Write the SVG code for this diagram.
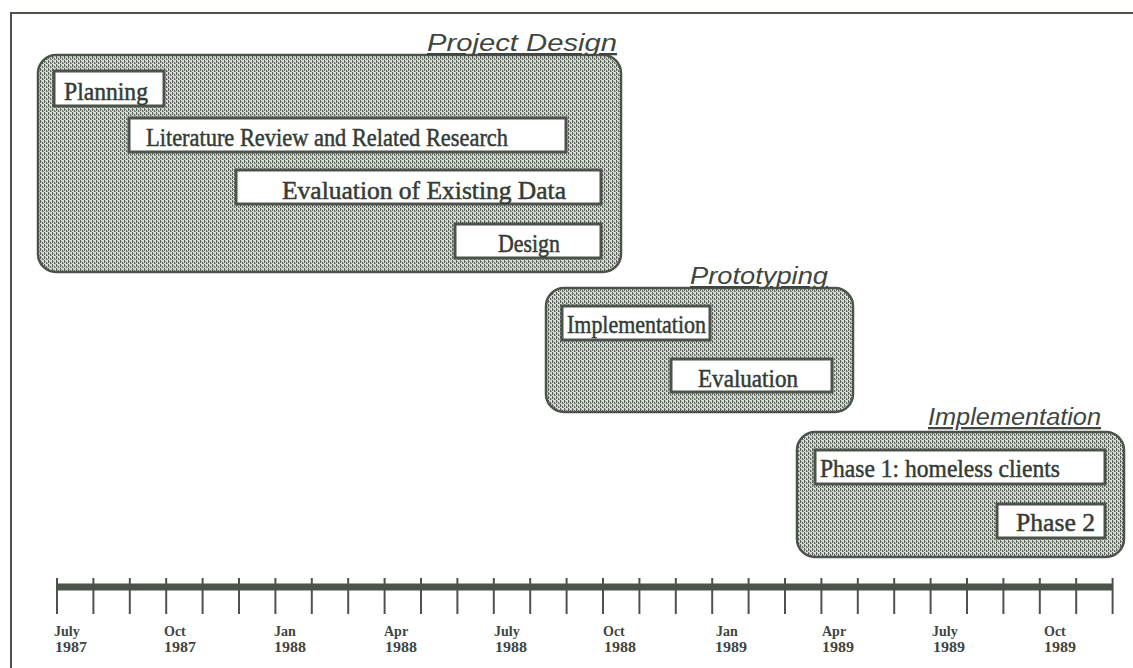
<svg xmlns="http://www.w3.org/2000/svg" width="1133" height="668" viewBox="0 0 1133 668">
  <defs>
    <!-- fine stipple used for the phase panels -->
    <pattern id="stipple" width="4" height="4" patternUnits="userSpaceOnUse">
      <rect width="4" height="4" fill="#dadcda"/>
      <rect x="0" y="0" width="1" height="3" fill="#5a625a"/>
      <rect x="2" y="2" width="1" height="3" fill="#5a625a"/>
      <rect x="1" y="1" width="1" height="1" fill="#969b96"/>
      <rect x="3" y="3" width="1" height="1" fill="#969b96"/>
    </pattern>
    <style>
      .panel { fill: url(#stipple); stroke: #4b534b; stroke-width: 2.5; }
      .task { fill: #ffffff; stroke: #4b534b; stroke-width: 3; }
      .tasklabel { font-family: "Liberation Serif", "DejaVu Serif", serif; font-size: 25px; fill: #353c35; stroke: #353c35; stroke-width: 0.5; }
      .phase { font-family: "Liberation Sans", Arial, sans-serif; font-style: italic; font-size: 23px; fill: #3f463f; text-decoration: underline; }
      .frame { fill: none; stroke: #4b534b; stroke-width: 2; }
      .axis { stroke: #4b534b; }
      .month { font-family: "Liberation Serif", "DejaVu Serif", serif; font-weight: bold; font-size: 14px; fill: #3f463f; }
    </style>
  </defs>

  <rect width="1133" height="668" fill="#ffffff"/>

  <!-- outer frame: top and left rules -->
  <path class="frame" d="M11,668 V13 H1133"/>

  <!-- Project Design -->
  <g id="project-design">
    <rect class="panel" x="38" y="55" width="583" height="217" rx="18"/>
    <text class="phase" x="427" y="51" textLength="190" lengthAdjust="spacingAndGlyphs">Project Design</text>
  </g>
  <g id="planning">
    <rect class="task" x="54" y="71" width="110" height="35"/>
    <text class="tasklabel" x="64" y="100" textLength="84" lengthAdjust="spacingAndGlyphs">Planning</text>
  </g>
  <g id="literature-review">
    <rect class="task" x="129" y="118" width="437" height="34"/>
    <text class="tasklabel" x="146" y="146" textLength="362" lengthAdjust="spacingAndGlyphs">Literature Review and Related Research</text>
  </g>
  <g id="evaluation-existing-data">
    <rect class="task" x="236" y="170" width="365" height="34"/>
    <text class="tasklabel" x="282" y="199" textLength="284" lengthAdjust="spacingAndGlyphs">Evaluation of Existing Data</text>
  </g>
  <g id="design">
    <rect class="task" x="455" y="224" width="146" height="34"/>
    <text class="tasklabel" x="498" y="252" textLength="62" lengthAdjust="spacingAndGlyphs">Design</text>
  </g>

  <!-- Prototyping -->
  <g id="prototyping">
    <rect class="panel" x="546" y="288" width="307" height="124" rx="18"/>
    <text class="phase" x="690" y="284" textLength="138" lengthAdjust="spacingAndGlyphs">Prototyping</text>
  </g>
  <g id="proto-implementation">
    <rect class="task" x="562" y="306" width="148" height="34"/>
    <text class="tasklabel" x="567" y="333" textLength="139" lengthAdjust="spacingAndGlyphs">Implementation</text>
  </g>
  <g id="proto-evaluation">
    <rect class="task" x="671" y="359" width="161" height="33"/>
    <text class="tasklabel" x="698" y="387" textLength="100" lengthAdjust="spacingAndGlyphs">Evaluation</text>
  </g>

  <!-- Implementation -->
  <g id="implementation">
    <rect class="panel" x="797" y="432" width="327" height="125" rx="18"/>
    <text class="phase" x="928" y="425" textLength="173" lengthAdjust="spacingAndGlyphs">Implementation</text>
  </g>
  <g id="phase-1">
    <rect class="task" x="815" y="450" width="290" height="34"/>
    <text class="tasklabel" x="820" y="477" textLength="240" lengthAdjust="spacingAndGlyphs">Phase 1: homeless clients</text>
  </g>
  <g id="phase-2">
    <rect class="task" x="997" y="504" width="108" height="34"/>
    <text class="tasklabel" x="1016" y="531" textLength="79" lengthAdjust="spacingAndGlyphs">Phase 2</text>
  </g>

  <!-- timeline axis: one tick per month, July 1987 to December 1989 -->
  <g id="timeline">
    <line class="axis" x1="57" y1="587" x2="1113" y2="587" stroke-width="7"/>
    <g class="axis" stroke-width="2">
      <line x1="57" y1="578" x2="57" y2="614"/>
      <line x1="93.4" y1="578" x2="93.4" y2="614"/>
      <line x1="129.8" y1="578" x2="129.8" y2="614"/>
      <line x1="166.2" y1="578" x2="166.2" y2="614"/>
      <line x1="202.6" y1="578" x2="202.6" y2="614"/>
      <line x1="239" y1="578" x2="239" y2="614"/>
      <line x1="275.4" y1="578" x2="275.4" y2="614"/>
      <line x1="311.8" y1="578" x2="311.8" y2="614"/>
      <line x1="348.2" y1="578" x2="348.2" y2="614"/>
      <line x1="384.6" y1="578" x2="384.6" y2="614"/>
      <line x1="421" y1="578" x2="421" y2="614"/>
      <line x1="457.4" y1="578" x2="457.4" y2="614"/>
      <line x1="493.8" y1="578" x2="493.8" y2="614"/>
      <line x1="530.2" y1="578" x2="530.2" y2="614"/>
      <line x1="566.6" y1="578" x2="566.6" y2="614"/>
      <line x1="603" y1="578" x2="603" y2="614"/>
      <line x1="639.4" y1="578" x2="639.4" y2="614"/>
      <line x1="675.8" y1="578" x2="675.8" y2="614"/>
      <line x1="712.2" y1="578" x2="712.2" y2="614"/>
      <line x1="748.6" y1="578" x2="748.6" y2="614"/>
      <line x1="785" y1="578" x2="785" y2="614"/>
      <line x1="821.4" y1="578" x2="821.4" y2="614"/>
      <line x1="857.8" y1="578" x2="857.8" y2="614"/>
      <line x1="894.2" y1="578" x2="894.2" y2="614"/>
      <line x1="930.6" y1="578" x2="930.6" y2="614"/>
      <line x1="967" y1="578" x2="967" y2="614"/>
      <line x1="1003.4" y1="578" x2="1003.4" y2="614"/>
      <line x1="1039.8" y1="578" x2="1039.8" y2="614"/>
      <line x1="1076.2" y1="578" x2="1076.2" y2="614"/>
      <line x1="1112.6" y1="578" x2="1112.6" y2="614"/>
    </g>
    <g class="month">
      <text x="54" y="636">July</text><text x="55" y="652" textLength="32" lengthAdjust="spacingAndGlyphs">1987</text>
      <text x="164" y="636">Oct</text><text x="164" y="652" textLength="32" lengthAdjust="spacingAndGlyphs">1987</text>
      <text x="274" y="636">Jan</text><text x="274" y="652" textLength="32" lengthAdjust="spacingAndGlyphs">1988</text>
      <text x="384" y="636">Apr</text><text x="385" y="652" textLength="32" lengthAdjust="spacingAndGlyphs">1988</text>
      <text x="494" y="636">July</text><text x="495" y="652" textLength="32" lengthAdjust="spacingAndGlyphs">1988</text>
      <text x="603" y="636">Oct</text><text x="604" y="652" textLength="32" lengthAdjust="spacingAndGlyphs">1988</text>
      <text x="716" y="636">Jan</text><text x="715" y="652" textLength="32" lengthAdjust="spacingAndGlyphs">1989</text>
      <text x="822" y="636">Apr</text><text x="822" y="652" textLength="32" lengthAdjust="spacingAndGlyphs">1989</text>
      <text x="932" y="636">July</text><text x="933" y="652" textLength="32" lengthAdjust="spacingAndGlyphs">1989</text>
      <text x="1044" y="636">Oct</text><text x="1044" y="652" textLength="32" lengthAdjust="spacingAndGlyphs">1989</text>
    </g>
  </g>
</svg>
